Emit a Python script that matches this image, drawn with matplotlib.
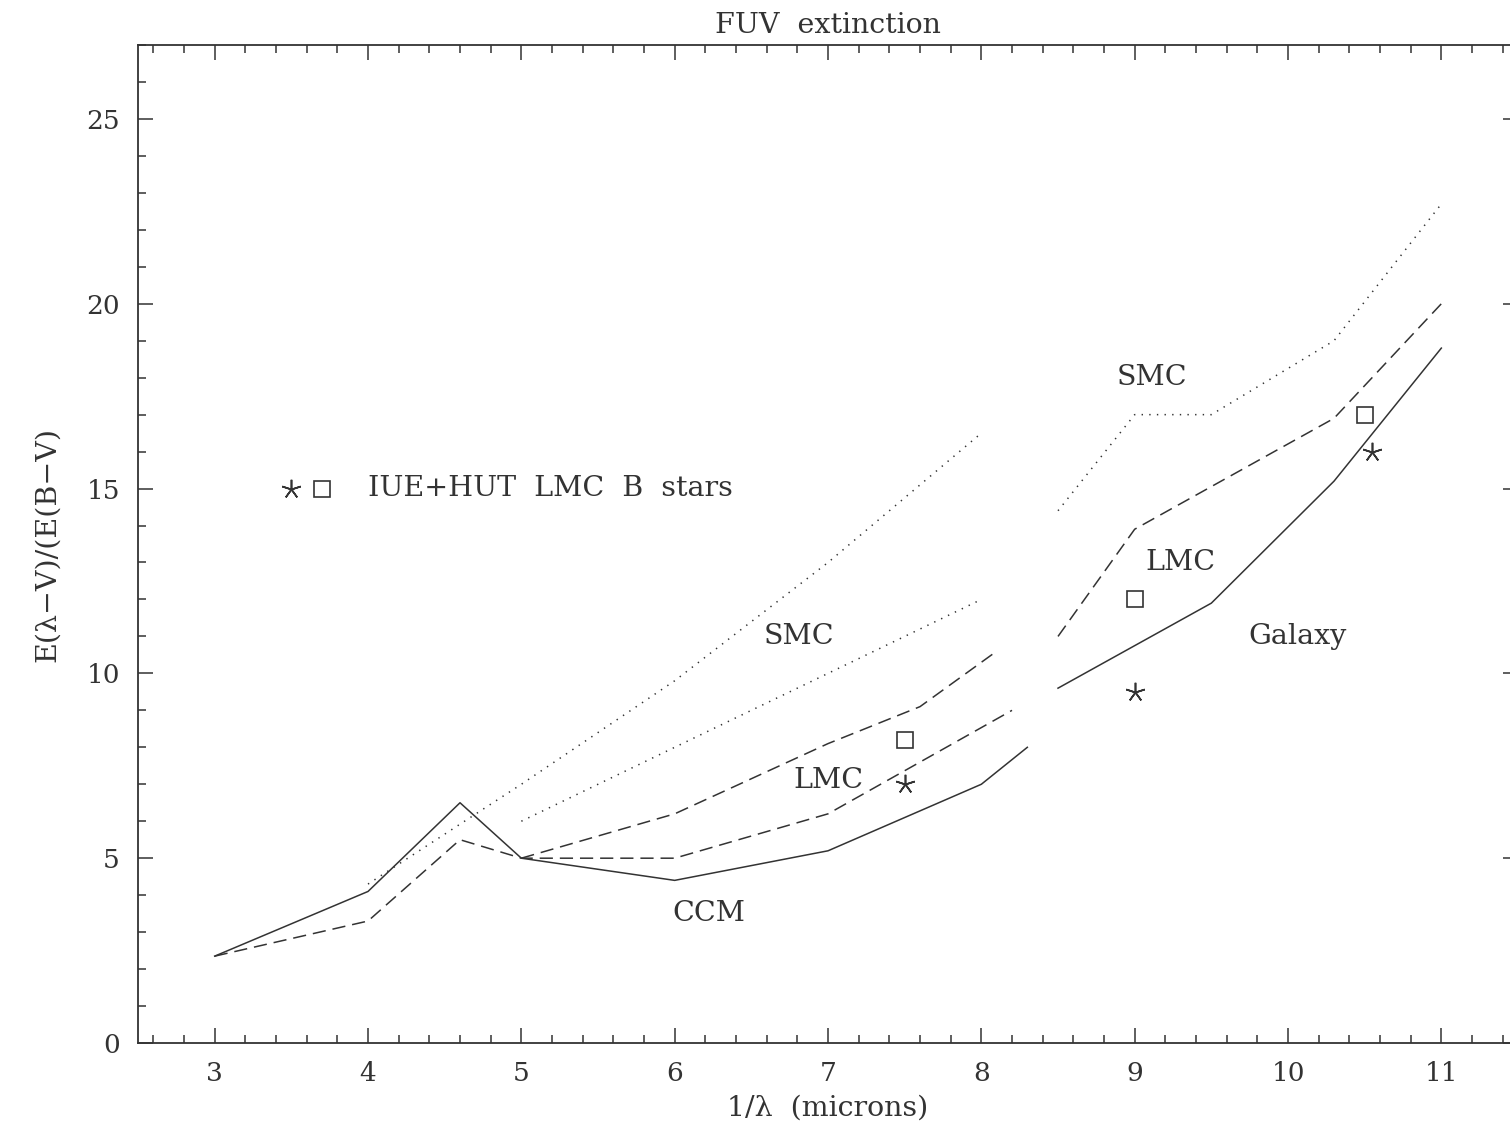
import matplotlib.pyplot as plt
from matplotlib.ticker import MultipleLocator

plt.rcParams['font.family'] = ['DejaVu Serif']
plt.rcParams['lines.scale_dashes'] = False

ink = '#333333'

# CCM / Galaxy curve (solid), in two pieces
ccm_x = [3, 4, 4.6, 5, 6, 7, 8, 8.3]
ccm_y = [2.35, 4.1, 6.5, 5.0, 4.4, 5.2, 7.0, 8.0]
gal_x = [8.5, 9.5, 10.3, 11]
gal_y = [9.6, 11.9, 15.2, 18.8]

# LMC curves (dashed)
lmc1_x = [3, 4, 4.6, 5, 6, 7, 8.2]
lmc1_y = [2.35, 3.3, 5.5, 5.0, 5.0, 6.2, 9.0]
lmc2_x = [5, 6, 7, 7.6, 8.1]
lmc2_y = [5.0, 6.2, 8.1, 9.1, 10.6]
lmc3_x = [8.5, 9, 10.3, 11]
lmc3_y = [11.0, 13.9, 16.9, 20.0]

# SMC curves (dotted)
smc1_x = [4, 5, 6, 7, 8]
smc1_y = [4.3, 7.0, 9.8, 13.0, 16.5]
smc2_x = [5, 6, 7, 8]
smc2_y = [6.0, 8.0, 10.0, 12.0]
smc3_x = [8.5, 9, 9.5, 10.3, 11]
smc3_y = [14.4, 17.0, 17.0, 19.0, 22.7]

# IUE+HUT LMC B stars
star_x = [7.5, 9.0, 10.55]
star_y = [7.0, 9.5, 16.0]
sq_x = [7.5, 9.0, 10.5]
sq_y = [8.2, 12.0, 17.0]

fig = plt.figure(figsize=(15.1, 11.31), dpi=100)
ax = fig.add_axes([0.0914, 0.0778, 0.9139, 0.8824])

lw = 1.1
for x, y in [(ccm_x, ccm_y), (gal_x, gal_y)]:
    ax.plot(x, y, color=ink, lw=lw)
for x, y in [(lmc1_x, lmc1_y), (lmc2_x, lmc2_y), (lmc3_x, lmc3_y)]:
    ax.plot(x, y, color=ink, lw=lw, dashes=(9.5, 5))
for x, y in [(smc1_x, smc1_y), (smc2_x, smc2_y), (smc3_x, smc3_y)]:
    ax.plot(x, y, color=ink, lw=lw, dashes=(1, 4.5))

star = (5, 2, 0)
ax.plot(star_x, star_y, ls='none', marker=star, ms=14, mew=1.2, color=ink)
ax.plot(sq_x, sq_y, ls='none', marker='s', ms=11, mew=1.2, mfc='none', mec=ink)

# key
ax.plot([3.5], [15], ls='none', marker=star, ms=14, mew=1.2, color=ink)
ax.plot([3.7], [15], ls='none', marker='s', ms=11, mew=1.2, mfc='none', mec=ink)
fs = 20.5
ax.text(4.0, 15, 'IUE+HUT  LMC  B  stars', fontsize=fs, va='center', ha='left', color=ink)

labels = [('SMC', 6.81, 11.0), ('LMC', 7.0, 7.1), ('CCM', 6.22, 3.5),
          ('SMC', 9.11, 18.0), ('LMC', 9.3, 13.0), ('Galaxy', 10.06, 11.0)]
for s, x, y in labels:
    ax.text(x, y, s, fontsize=fs, ha='center', va='center', color=ink)

ax.set_xlim(2.5, 11.5)
ax.set_ylim(0, 27)
ax.xaxis.set_major_locator(MultipleLocator(1))
ax.xaxis.set_minor_locator(MultipleLocator(0.2))
ax.yaxis.set_major_locator(MultipleLocator(5))
ax.yaxis.set_minor_locator(MultipleLocator(1))
ax.tick_params(which='both', direction='in', top=True, right=True, color=ink,
               labelsize=19, labelcolor=ink, width=1.1)
ax.tick_params(which='major', length=11, pad=13)
ax.tick_params(which='minor', length=5.5)
for sp in ax.spines.values():
    sp.set_color(ink)
    sp.set_linewidth(1.3)

ax.set_title('FUV  extinction', fontsize=fs, color=ink, pad=9)
ax.set_xlabel('1/λ  (microns)', fontsize=fs, color=ink, labelpad=6)
ax.set_ylabel('E(λ−V)/(E(B−V)', fontsize=fs, color=ink, labelpad=18)

fig.savefig('out.png', dpi=100)
